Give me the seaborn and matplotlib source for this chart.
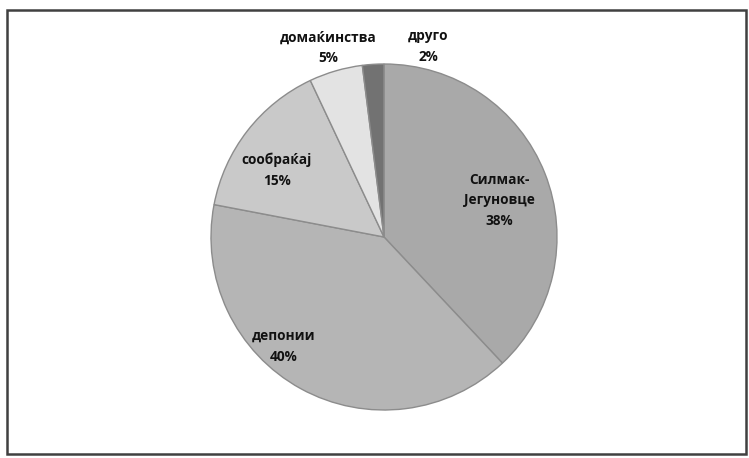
import numpy as np
import matplotlib
matplotlib.use("Agg")
import matplotlib.pyplot as plt
import matplotlib.patches as mpatches
import seaborn as sns

# Sources of pollution, share in percent
categories = ["Силмак-\nЈегуновце", "депонии", "сообраќај", "домаќинства", "друго"]
shares = [38, 40, 15, 5, 2]

# Slice fills (greyscale)
slice_colors = ["#a9a9a9", "#b5b5b5", "#c9c9c9", "#e3e3e3", "#727272"]

# Label placement: (angle in degrees, distance as fraction of radius)
label_layout = [(17.7, 0.70), (-132.6, 0.86), (148.0, 0.73), (106.4, 1.14), (77.0, 1.13)]

sns.set_theme(style="white")
plt.rcParams["font.family"] = ["Open Sans", "DejaVu Sans"]

W, H = 749, 458
fig = plt.figure(figsize=(W / 100, H / 100), dpi=100)
fig.patch.set_facecolor("white")

cx, cy, r = 384, 237, 173
ax = fig.add_axes([(cx - r) / W, (H - cy - r) / H, 2 * r / W, 2 * r / H])
ax.pie(shares, colors=slice_colors, startangle=90, counterclock=False,
       radius=1.0,
       wedgeprops=dict(edgecolor="#8c8c8c", linewidth=1.0))
ax.set_xlim(-1, 1)
ax.set_ylim(-1, 1)
ax.set_aspect("equal")
ax.axis("off")

for name, val, (ang, dist) in zip(categories, shares, label_layout):
    t = np.deg2rad(ang)
    ax.text(dist * np.cos(t), dist * np.sin(t), f"{name}\n{val}%",
            ha="center", va="center", fontsize=9.8, fontweight="bold",
            color="#111111", linespacing=1.6, clip_on=False)

# Chart area border
frame = mpatches.Rectangle((7 / W, 1 - 454 / H), (746 - 7) / W, (454 - 10) / H,
                           transform=fig.transFigure, fill=False,
                           edgecolor="#404040", linewidth=1.8)
fig.patches.append(frame)

fig.savefig("out.png", dpi=100, facecolor="white")
